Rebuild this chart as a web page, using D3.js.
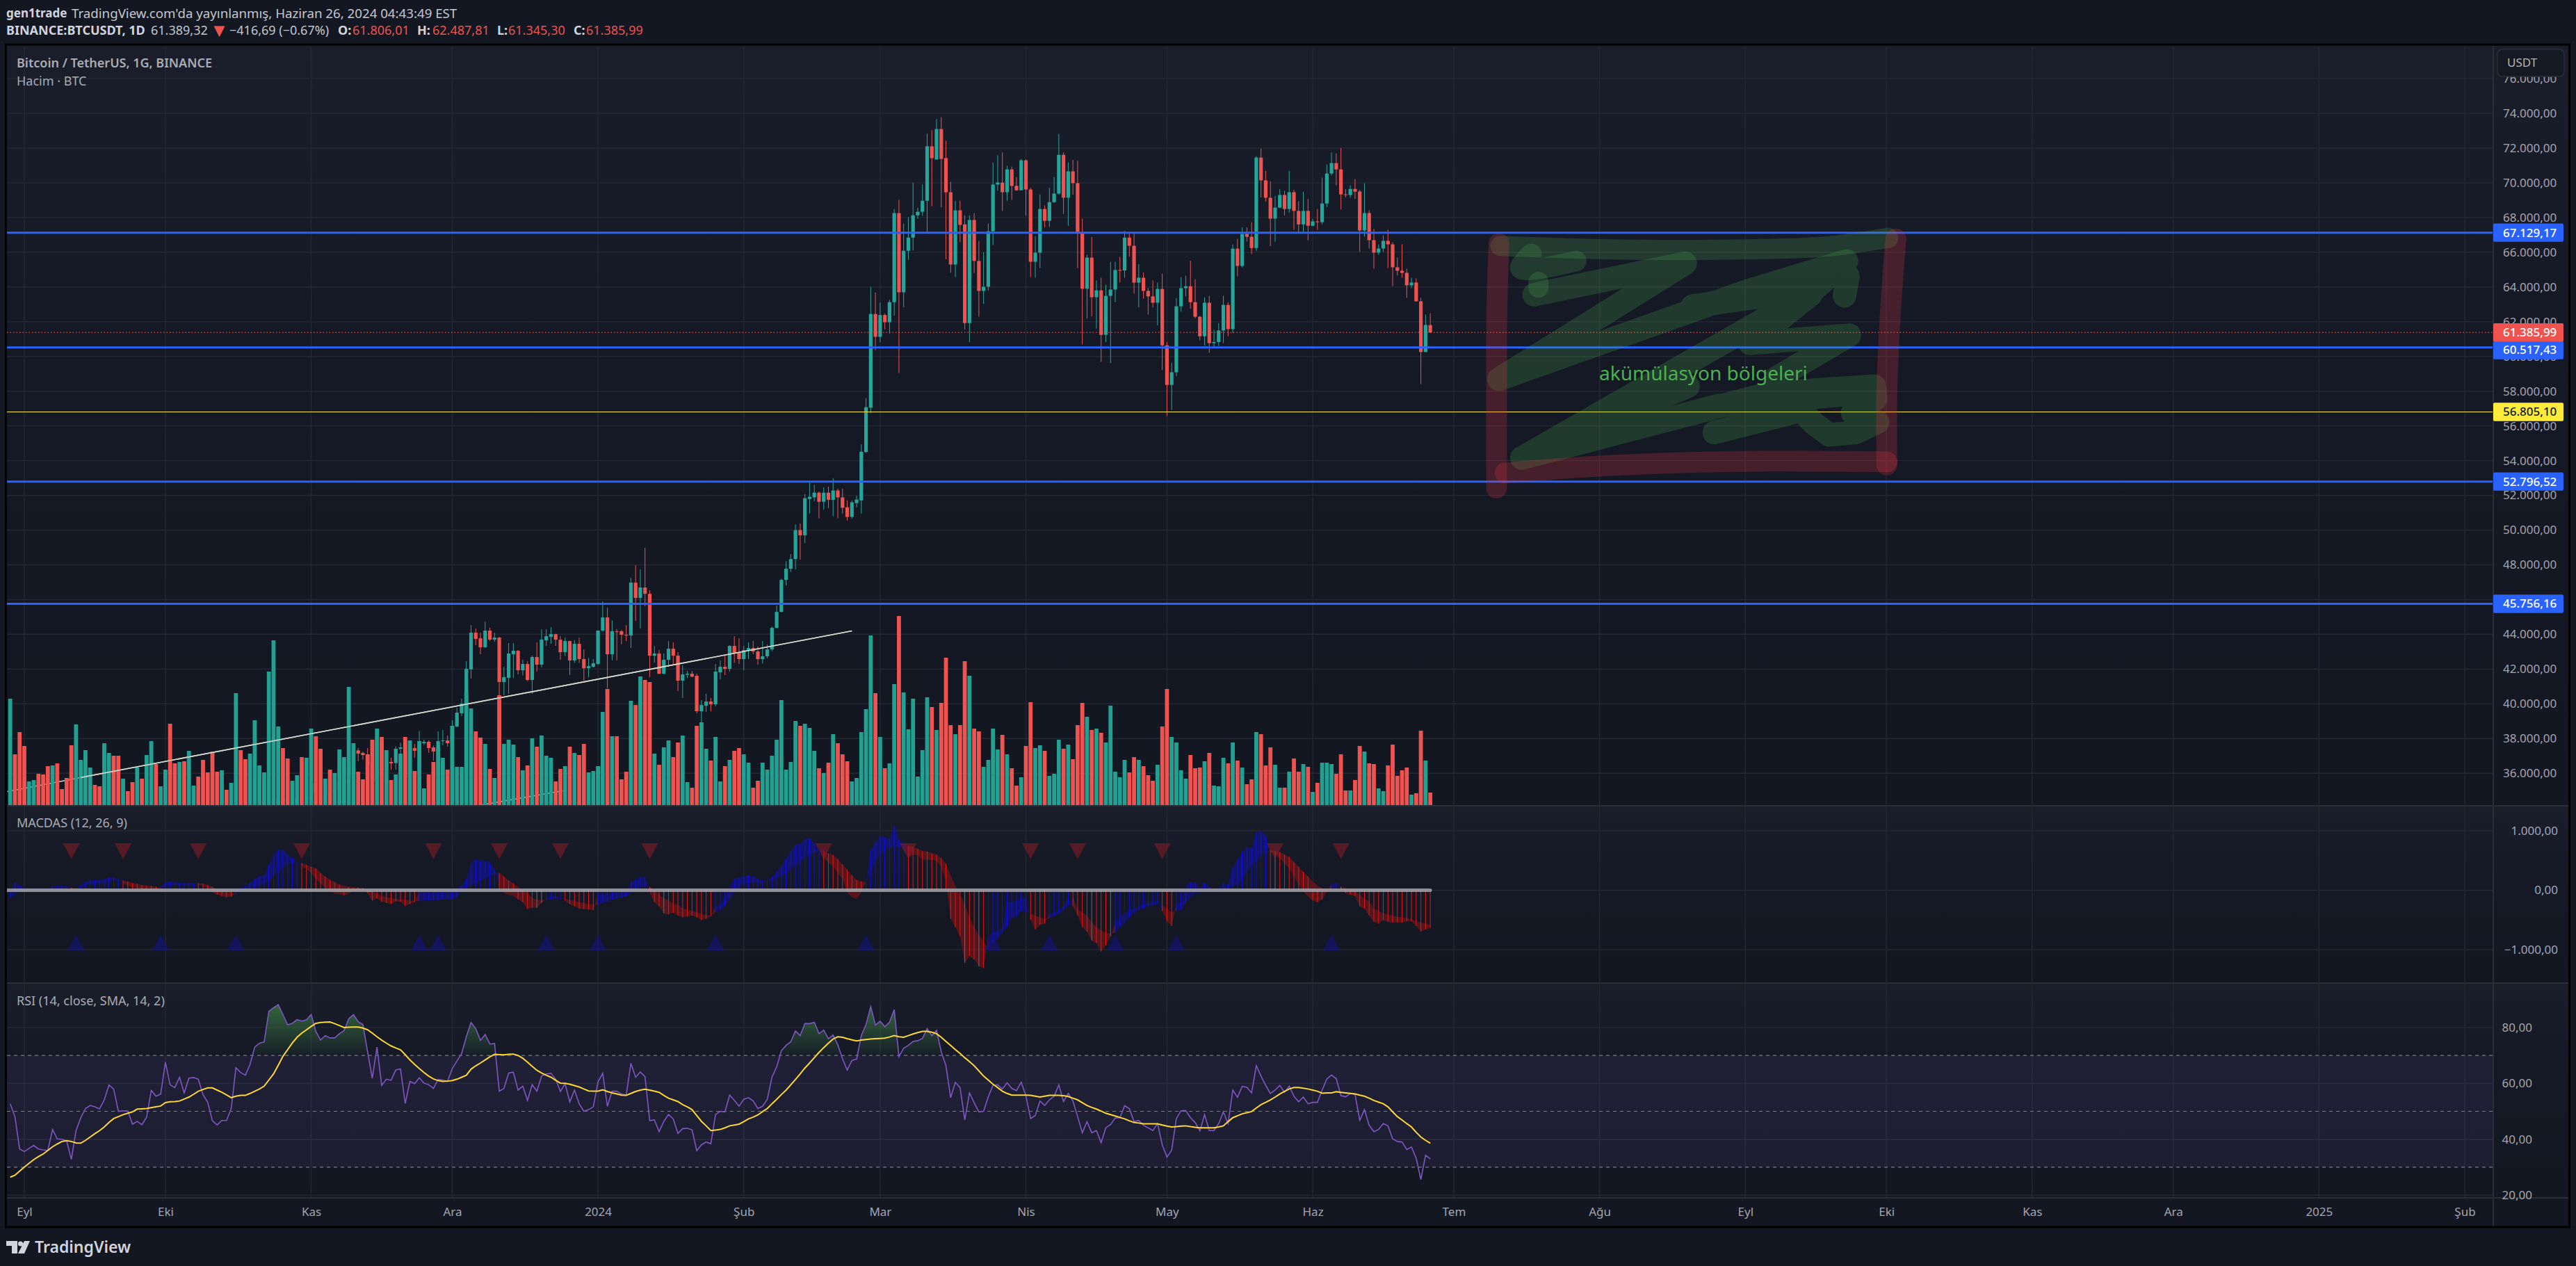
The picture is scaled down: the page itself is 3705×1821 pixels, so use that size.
<!DOCTYPE html>
<html>
<head>
<meta charset="utf-8">
<script src="https://cdn.jsdelivr.net/npm/d3@7"></script>
<style>
  html, body { margin: 0; padding: 0; background: #131722; }
  text { font-family: "Noto Sans", sans-serif; }
</style>
</head>
<body>
<svg id="chart" width="3705" height="1821"></svg>
<script>
/* ==== data ==== */
var firstDay = "2023-08-29";
var firstCandle = 56; // 24 Oct 2023, everything earlier is under the pane

var opens = [
  33069,33922,34496,34151,33892,34081,34525,34474,
  34639,35421,34941,34735,35082,35048,35037,35443,35620,36728,37315,37168,37048,36488,35552,37880,36160,36648,36581,37408,37488,35760,37448,37288,37728,37808,37488,37248,37848,37888,
  37728,38689,39449,39956,41984,44091,43771,43251,44211,43691,43811,41250,41490,42851,43051,41930,42290,41370,42691,42250,43651,43851,44011,43691,42971,43611,42491,43451,42571,42050,42130,
  42290,44211,44972,42851,44171,44171,43971,43931,46973,46092,46693,46332,42771,42891,41730,42531,43171,42771,41330,41670,41730,41610,39569,39889,40129,39969,41810,42130,42010,43331,42931,
  42571,43091,43211,43011,42571,42731,43131,44371,45292,47133,47773,48333,50000,49700,51790,51885,52154,51632,52154,51743,52281,51885,51316,50761,51553,51711,54497,57046,62444,
  61130,62387,61969,63125,68254,63695,66085,66845,68127,68333,68966,72100,71340,73098,71420,69457,65294,68412,67605,61922,67858,65499,63774,64011,67209,69900,70011,69457,70771,69821,69568,
  71293,69615,65452,65974,68491,67810,68887,69378,71610,69140,70660,69979,67098,63900,65689,63410,63805,61241,63489,63853,64977,64950,66845,66370,64249,64534,63774,63457,63093,63885,
  60639,58360,59088,62887,63932,64043,63125,62286,61162,63093,60766,60830,61494,62967,61573,66211,65214,67051,66892,66243,71451,70137,69140,67937,68570,69298,68491,69457,68380,67605,68380,
  67526,67779,67731,68808,70533,71135,70771,69330,69298,69647,69497,67256,68257,66696,65976,66216,66656,66456,65135,64935,64815,64095,64255,63174,60253,61806
];
var highs = [
  35280,35132,34824,34245,34493,34790,34856,34720,
  35579,35984,34946,35275,35380,35295,35890,35900,37972,37530,37448,37248,37448,36760,37980,37980,36840,36888,37555,37755,37650,37880,37688,38443,37928,37888,37595,38408,38489,38168,
  39049,39769,40290,42451,44532,44331,44091,44732,44371,44091,43850,42130,43491,43491,43091,42531,42451,42771,43531,44291,44291,44411,44030,43891,43811,43630,43664,43811,43131,42637,42571,
  44230,45892,45532,44800,44300,44251,44532,47253,47973,47733,48974,46533,43331,43091,42900,43611,43531,42971,42210,41890,41890,41730,40209,40570,40330,42290,42491,42851,43371,43891,43771,
  43331,43531,43611,43291,43611,43411,44451,45652,47200,48213,48614,50330,50370,52075,52820,52614,52217,52455,52503,52994,52392,52392,51711,51711,51980,54940,57600,64011,63676,
  63110,62476,63252,68491,69013,67652,68016,70011,68554,69900,72829,73034,73668,73778,72417,70058,68950,68982,68127,68127,68254,66655,65990,67652,71166,71578,71752,70976,70929,70327,71372,
  71350,69710,66924,69330,68700,69710,70327,72813,71752,71182,71325,71261,67937,65847,66876,64375,64534,64122,65452,65452,65737,67240,67177,67098,65309,64834,63932,64375,64249,64771,
  60830,59642,63362,64565,64644,65515,64454,62333,63410,63489,61526,61922,63489,63109,66449,66766,67430,67430,67731,71530,71974,70691,70090,69235,69631,69536,70691,69600,68934,69489,69061,
  67921,68491,70296,71056,71752,71689,72005,69631,69853,70217,69600,69978,68417,67336,66456,66976,67296,66576,65696,66456,65055,64535,64495,63375,62414,62488
];
var lows = [
  32832,33679,33666,33390,33860,33923,34062,34062,
  34110,34300,34120,34574,34525,34737,34520,35111,35500,36340,36688,36781,35800,35100,35360,35880,35880,36194,36200,36700,35630,35730,36888,37200,37622,37181,36728,36800,37608,37528,
  37600,38650,39289,39950,41450,43371,42851,43220,43611,43571,40490,40490,40570,41477,41690,41637,41290,40570,41850,42100,43331,43451,43331,42531,42757,41650,42357,42357,41330,41530,42090,
  42224,44150,40890,42491,42500,43424,43600,43211,44772,44331,45612,41530,42371,41700,41700,42117,42300,40730,40330,41490,41530,39449,38929,39529,39569,39849,41410,41650,41850,42357,42290,
  41930,42571,42850,42250,42317,42624,43024,44330,45260,46813,47587,47733,48300,49250,50952,51663,50682,51189,51268,50793,50682,50952,50556,50667,51300,50952,54450,56730,60364,
  60814,61557,61320,62349,59056,62824,65562,66101,67921,68100,67067,68649,71340,68586,65594,64818,64565,66576,61557,60814,64803,62286,63030,63805,66417,69552,68380,68966,69013,69536,69568,
  68111,64565,64534,65088,67446,67462,68839,69314,68206,67526,69314,65088,60687,62175,62301,61605,59690,60830,59610,63125,64249,64534,65753,63615,62824,63330,62412,62824,61795,59214,
  56571,56919,58867,62571,63457,62745,62200,60924,60640,60212,60529,60608,60766,61162,61336,64613,65135,66623,65895,66085,69156,68919,66354,66607,68539,68127,68285,67288,67130,67130,66687,
  67494,67288,67604,68602,70422,69853,68459,69156,69140,69077,66016,66896,66216,65055,65856,66016,65095,64055,64655,64535,63375,63935,63150,58412,60253,61345
];
var closes = [
  33922,34496,34151,33892,34081,34525,34474,34639,
  35421,34941,34735,35082,35048,35037,35443,35620,36728,37300,37128,37048,36488,35552,37880,36160,36600,36568,37408,37488,35760,37410,37288,37720,37808,37448,37248,37848,37888,37728,
  38729,39489,40009,42010,44091,43731,43251,44211,43691,43811,41250,41530,42891,43051,41930,42290,41370,42691,42250,43691,43891,44011,43691,42971,43611,42491,43451,42571,42050,42170,42330,
  44211,44972,42851,44171,44150,43971,43940,46973,46092,46693,46332,42771,42891,41730,42531,43171,42771,41330,41690,41730,41560,39569,39929,40129,39969,41850,42130,42010,43331,42931,42571,
  43091,43211,43011,42571,42731,43131,44371,45292,47133,47773,48333,50000,49700,51838,51917,52154,51632,52154,51743,52281,51885,51284,50761,51600,51759,54513,57078,62444,61130,
  62387,61969,63125,68254,63695,66085,66845,68127,68333,68966,72100,71420,73098,71372,69457,65294,68412,67573,61922,67858,65499,63774,64011,67209,69900,70011,69457,70771,69821,69568,71293,
  69615,65452,65974,68491,67810,68887,69378,71610,69140,70660,69979,67098,63900,65689,63410,63805,61241,63489,63853,64977,64950,66845,66370,64249,64534,63774,63457,63093,63885,60639,
  58360,59088,62887,63932,64043,63125,62286,61162,63093,60766,60830,61494,62967,61573,66211,65214,67051,66892,66243,71451,70137,69140,67937,68570,69298,68491,69457,68380,67605,68380,67526,
  67779,67731,68808,70533,71135,70771,69330,69298,69647,69488,67256,68257,66696,65976,66216,66656,66456,65135,64935,64815,64095,64255,63174,60253,61813,61386
];

var volumes = [
  154,74,106,86,35,37,46,45,57,58, 61,24,40,87,117,66,80,55,30,28,
  90,76,72,72,39,21,34,55,39,73, 93,60,28,52,118,61,63,64,79,29,
  42,66,48,78,49,51,23,33,162,80, 67,75,123,58,48,193,238,114,83,68,
  36,44,70,69,111,100,82,39,52,47, 81,70,171,90,49,38,74,95,111,99,
  80,37,45,75,99,94,50,93,25,45, 63,84,69,52,115,56,56,164,140,107,
  98,89,53,40,159,89,95,88,70,51, 58,97,85,101,72,69,35,53,57,85,
  76,73,89,48,50,57,135,168,100,100, 38,49,151,145,186,181,178,75,59,84,
  94,70,91,101,34,26,115,120,82,65, 99,35,57,66,
  79,83,74,62,26,36,62,52,72,95, 152,52,63,122,115,118,112,79,54,47,
  62,103,90,74,64,35,40,106,139,245, 162,99,54,61,175,273,163,110,154,42,
  80,156,142,109,148,213,116,103,116,208, 187,111,107,56,66,111,81,102,74,54,
  29,41,86,149,83,87,79,43,46,95, 82,88,67,116,148,128,109,111,105,91,
  144,49,41,66,48,70,66,57,44,36, 59,114,168,99,91,51,39,73,54,55,
  64,76,29,28,69,61,91,65,55,31, 38,106,103,58,84,59,26,26,49,68,
  49,60,56,20,33,62,62,60,46,74, 22,22,37,86,78,61,60,25,21,58,
  88,43,51,55,16,18,108,65,19
];
var volumeDir =
  "GRRRGGRRRG" + "RRRRGGGGRR" + "GGRRGRRGRG" + "GRGGRRGRGG" + "RRRRRGRGGR" + "RGGGGGGGRR" +
  "GGRGGRRGRG" + "GGGGRRRRGR" + "GRGGRGRGGR" + "RGGRGGGGGR" + "RGRGRGGGRG" + "RGRGGGRRGR" +
  "GRRGGGGRGR" + "RRGRGRRGRG" + "GRRGGRRGGR" + "GGRG" +
  "RRGGRRGGGG" + "GGGGRGGGRG" + "RGRRRGGGGG" + "RGRGGRGGGG" + "GGRGRRRGRR" + "GRRGGGGRGR" +
  "RGRRGGRGGG" + "RGRRRGRGRG" + "GGGGRRGRRR" + "GRRGGGGRRR" + "GRGGGRGRGR" + "RGRRRGGRGR" +
  "RGRGRGGGRR" + "RGRRGRRGGR" + "RRRRGRRGR";

var macdLine = [
  -8,136,78,47,31,23,31,27,23,70, 70,78,70,31,31,85,143,163,171,171,
  186,213,213,186,116,78,39,31,19,8, 0,8,58,136,143,143,124,120,120,116,
  93,70,31,-39,-70,-101,-116,-109,-31,47, 70,124,186,233,252,426,601,678,678,601,
  543,473,407,357,291,186,116,31,-8,-58, -70,-85,-58,-8,-8,0,-47,-174,-136,-194,
  -213,-233,-186,-194,-264,-233,-202,-19,-39,-31, -19,-31,-19,-8,19,39,78,194,465,523,
  496,496,465,368,58,-47,-78,-97,-155,-202, -318,-291,-298,-213,-155,-97,-97,-136,-174,-233,
  -271,-310,-318,-326,-333,-58,-78,-58,-39,-39, -31,-19,147,174,225,233,-47,-202,-271,-388,
  -407,-380,-426,-457,-442,-426,-457,-504,-481,-434, -271,-233,-116,78,186,213,240,252,240,194,
  163,155,225,318,407,535,659,767,775,864, 872,795,690,543,465,407,291,194,-39,-116,
  -147,-39,147,678,814,911,891,872,1085,853, 795,543,601,589,523,512,512,496,388,155,
  -485,-620,-775,-1221,-1105,-1163,-1279,-1310,-775,-698, -698,-620,-194,-194,-174,-136,-97,-496,-659,-581,
  -562,-395,-368,-329,-271,-116,-271,-426,-620,-698, -845,-891,-1031,-930,-775,-543,-465,-388,-329,-310,
  -271,-233,-213,-194,-174,-349,-523,-601,-233,-194, 78,136,136,39,124,58,16,31,116,97,
  388,523,640,729,705,969,1000,911,651,601, 543,446,368,233,97,-19,-109,-174,-202,-155,
  -19,97,124,39,-47,-78,-97,-271,-310,-426, -531,-562,-504,-531,-543,-543,-543,-523,-523,-601,
  -698,-659,-636
];
var signalLine = [
  -136,-78,-8,8,8,8,8,8,8,23, 31,31,31,47,8,39,78,97,109,116,
  124,147,163,163,163,147,124,109,85,78, 70,62,31,58,78,97,85,93,85,85,
  116,109,89,58,8,-8,-19,-31,-70,0, 8,31,47,78,116,155,233,310,380,446,
  465,465,457,426,395,368,291,233,174,136, 97,78,58,47,47,39,16,-8,-58,-97,
  -116,-136,-147,-155,-155,-174,-174,-186,-174,-171, -174,-167,-155,-155,-147,-116,-19,39,78,116,
  155,194,240,271,291,233,163,116,58,0, -31,-136,-155,-163,-163,-155,-136,-155,-147,-163,
  -174,-202,-213,-233,-233,-252,-213,-194,-155,-136, -124,-109,-58,19,58,58,58,8,-78,-136,
  -174,-225,-252,-302,-329,-349,-368,-395,-419,-426, -368,-329,-271,-155,-58,58,105,116,136,124,
  124,147,163,194,240,271,349,426,485,535, 601,640,651,667,620,593,523,434,349,252,
  174,147,136,310,485,601,678,698,756,717, 736,756,729,698,659,651,620,601,543,446,
  252,78,-78,-233,-465,-620,-756,-853,-1008,-891, -814,-717,-620,-465,-457,-349,-368,-388,-426,-457,
  -477,-473,-434,-395,-341,-264,-116,-329,-368,-426, -543,-620,-678,-717,-729,-717,-620,-562,-465,-388,
  -329,-310,-271,-252,-233,-252,-310,-368,-349,-329, -213,-116,-58,-47,19,0,-8,8,0,8,
  78,97,174,310,426,485,581,678,686,659, 640,601,562,477,395,310,233,147,78,39,
  8,19,58,58,39,19,-19,-70,-136,-194, -310,-349,-388,-407,-426,-446,-457,-465,-485,-523,
  -543,-562,-581
];
// days where the histogram stick is grey instead of coloured
var greySticks = [112, 113, 139, 203, 206, 230, 234, 269, 283];
var sellMarks = [13, 24, 40, 62, 90, 104, 117, 136, 173, 191, 217, 227, 245, 269, 283];
var buyMarks = [14, 32, 48, 87, 91, 114, 125, 150, 182, 209, 221, 235, 248, 281];

var rsiLine = [
  52.7,48.1,36.5,35.6,36.7,37.8,36.5,36.2,36.0,43.5, 40.1,40.0,39.4,32.8,43.1,47.7,51.0,52.1,51.6,50.9,
  54.1,59.4,58.0,50.0,50.2,50.1,45.4,46.4,45.2,47.9, 57.5,55.4,56.2,67.6,59.5,58.5,62.2,56.6,61.9,62.1,
  61.5,56.0,53.2,46.6,45.1,46.7,46.7,51.0,65.6,63.9, 62.9,66.8,73.0,74.4,74.8,85.8,87.1,88.2,84.6,81.0,
  81.5,82.8,82.3,82.8,84.7,78.6,75.5,77.1,76.3,76.3, 77.8,78.9,83.2,84.6,82.1,81.1,71.3,61.8,73.0,59.3,
  61.5,61.1,64.8,65.2,52.8,60.7,59.9,62.0,60.1,59.5, 58.2,61.4,61.2,60.7,65.3,68.0,70.7,76.7,81.8,79.6,
  75.4,77.5,74.1,74.3,57.2,58.2,63.7,64.0,57.6,59.0, 53.9,59.5,57.2,62.6,63.4,63.6,61.5,57.1,59.9,53.4,
  57.6,52.7,50.0,50.6,51.6,60.5,63.6,51.8,57.2,57.2, 56.2,55.8,67.2,62.2,64.1,62.4,46.7,46.9,42.7,46.4,
  48.9,47.3,42.1,43.8,43.9,43.4,35.9,38.0,39.0,38.4, 48.9,50.0,49.8,55.8,53.9,51.8,54.3,54.9,53.7,51.0,
  51.8,54.3,62.2,65.9,71.7,73.6,74.9,78.8,77.1,81.4, 81.4,81.9,77.8,79.1,76.0,77.3,73.8,68.8,64.8,68.2,
  68.7,77.1,81.1,87.5,80.9,82.3,80.3,81.9,86.4,69.6, 72.6,73.6,75.0,75.3,76.1,79.6,77.1,79.0,71.3,66.3,
  54.9,60.4,58.5,46.9,56.6,53.1,49.8,50.0,55.2,59.3, 59.5,58.0,60.2,58.2,57.4,60.4,55.6,47.4,48.5,53.7,
  52.1,54.1,55.4,59.5,53.5,56.4,53.7,48.1,42.3,46.3, 42.3,43.1,38.8,44.1,45.2,47.6,47.7,52.0,51.0,46.3,
  46.7,45.0,44.1,43.1,45.6,38.0,33.6,36.1,47.4,50.2, 50.3,47.7,46.0,43.0,48.8,43.1,43.1,45.6,49.8,45.6,
  57.6,55.0,58.9,58.6,56.6,66.3,62.6,59.3,56.4,57.6, 59.3,56.8,59.0,55.4,53.4,55.1,52.7,53.2,53.2,57.6,
  61.6,63.0,61.7,55.6,55.2,56.4,56.0,46.8,50.6,45.0, 42.7,43.5,45.6,44.8,40.1,39.2,39.0,36.3,37.2,33.2,
  25.6,34.3,33.0
];
var rsiAverage = [
  26.4,27.1,28.6,30.0,31.4,32.7,33.8,34.7,36.0,37.3, 38.3,39.2,39.5,39.2,38.7,38.6,39.6,40.8,42.0,43.1,
  44.4,46.0,47.4,48.1,48.8,49.3,49.8,50.8,50.9,51.0, 51.3,51.6,51.9,53.1,53.4,53.5,53.7,54.4,55.1,56.1,
  57.2,57.8,58.4,58.4,57.6,56.8,55.9,54.9,55.4,55.7, 55.7,56.4,57.2,58.0,59.0,61.2,63.4,66.5,69.7,72.1,
  74.5,76.5,78.0,79.2,80.4,81.5,81.8,81.9,82.0,81.4, 80.7,80.0,80.1,80.2,80.2,79.8,79.2,78.0,76.7,75.5,
  74.4,73.4,72.7,72.0,70.3,68.4,66.8,65.3,63.9,62.6, 61.6,61.0,60.7,60.8,61.0,61.5,62.2,62.9,65.1,66.3,
  67.3,68.4,69.5,70.4,70.3,70.2,70.4,70.5,70.0,69.0, 67.6,66.1,64.7,63.7,62.9,62.2,61.1,60.1,60.0,59.7,
  59.2,58.7,58.0,57.3,57.2,57.2,57.7,57.1,56.6,56.2, 55.8,55.7,56.4,57.1,57.6,57.9,57.6,57.2,56.8,55.7,
  54.7,54.1,53.5,52.4,51.6,50.6,48.5,46.4,44.8,43.1, 43.3,43.5,44.1,44.8,45.1,45.4,46.3,47.3,47.9,48.7,
  49.9,51.0,52.7,54.3,56.0,57.6,59.5,61.4,63.4,65.5, 67.3,69.2,71.1,72.8,74.4,75.9,76.7,76.5,76.0,75.6,
  75.2,75.5,75.7,75.9,76.0,76.1,76.2,76.6,77.1,76.7, 76.5,77.1,77.7,78.2,78.6,78.6,78.3,77.8,76.5,75.0,
  73.6,72.1,70.7,69.2,67.8,66.3,64.5,62.6,61.2,59.7, 58.5,57.2,56.4,55.8,55.8,55.8,55.8,55.7,55.4,55.1,
  55.4,55.7,55.7,55.7,55.6,55.3,54.7,54.1,53.1,52.1, 51.4,50.8,50.1,49.3,48.8,48.3,47.8,47.3,46.6,46.0,
  45.8,45.5,45.5,45.5,45.5,45.1,44.7,44.4,44.5,44.7, 44.8,44.5,44.3,44.1,44.1,44.1,44.1,44.4,44.8,46.3,
  47.7,48.4,49.1,49.5,49.9,51.2,52.4,53.2,54.1,55.1, 56.2,57.1,58.0,58.5,58.5,58.3,58.0,57.6,57.2,56.5,
  56.6,56.6,57.0,56.8,56.6,56.4,56.2,55.8,55.4,54.7, 53.9,53.3,52.7,51.6,49.8,48.1,46.9,45.6,44.4,42.5,
  40.8,39.6,38.6
];

var priceTicks = d3.range(36000, 78000, 2000);
var macdTicks = [1000, 0, -1000];
var rsiTicks = [80, 60, 40, 20];
var rsiDashed = [70, 50, 30];
var monthDates = ["2023-09-01","2023-10-01","2023-11-01","2023-12-01","2024-01-01","2024-02-01","2024-03-01","2024-04-01","2024-05-01","2024-06-01","2024-07-01","2024-08-01","2024-09-01","2024-10-01","2024-11-01","2024-12-01","2025-01-01","2025-02-01"];
var monthLabels = ["Eyl","Eki","Kas","Ara","2024","Şub","Mar","Nis","May","Haz","Tem","Ağu","Eyl","Eki","Kas","Ara","2025","Şub"];

var blueLevels = [67129.17, 60517.43, 52796.52, 45756.16];
var yellowLevel = 56805.10;
var lastPrice = 61385.99;

// hand drawn things, as [days since 1 Sep 2023, price]
var trendLine = [[-3.6, 34950], [176, 44196]];
var trendOver = [[12, 35753], [176, 44196]];
var trendLine2 = [[97.5, 34185], [114.5, 34986]];
var brushMain = [
  [[321.1,63560],[353.2,65361],[313.6,58691],[366.4,63760],[387.5,65494],[379.6,63627],[318.5,54155],[353.8,58291],[318.5,54155],[371.3,57891],[393.4,58291],[393.7,57557],[388.8,56757]],
  [[379.9,63560],[367.0,60759],[388.1,61226],[372.6,58758]],
  [[359.4,55623],[377.9,56890],[380.5,56156],[383.8,55489],[389.5,55623],[394.1,56223]],
  [[387.1,63494],[387.8,64627]],
  [[354.8,62893],[380.5,63894]],
  [[325.1,54622],[360.1,57157],[387.8,57824]]
];
var brushTop = [[313.9,66362],[331.7,66201],[364.7,66161],[384.5,66362],[396.4,66828]];
var brushBlob = [[320.5,65895],[318.2,65161],[330.0,65494]];
var brushDot = [[322.0,64294],[322.0,63960]];
var brushRed = [
  [[313.6,66495],[313.2,63160],[313.1,57824],[313.1,52421]],
  [[314.9,53288],[335.0,53688],[364.7,53955],[396.1,53929]],
  [[398.0,66762],[396.7,61826],[396.1,57824],[396.1,53755]]
];

/* ==== setup ==== */
var left = 10, axisX = 3586, right = 3695;
var mainTop = 66, mainBottom = 1159, macdBottom = 1414, rsiBottom = 1723, frameBottom = 1765;

var up = "#26a69a", down = "#ef5350", blue = "#2962ff", yellow = "#ffeb3b";
var gridColor = "#232732", lineColor = "#2a2e39", axisText = "#a3a6af";

var svg = d3.select("#chart");
var defs = svg.append("defs");

var parseDay = d3.utcParse("%Y-%m-%d");
var startDay = parseDay("2023-09-01");
var dayOf = function(i) { return d3.utcDay.offset(parseDay(firstDay), i); };

var x = d3.scaleUtc()
  .domain([startDay, parseDay("2025-02-01")])
  .range([35, 3545]);
var xDays = function(n) { return x(d3.utcMillisecond.offset(startDay, n * 864e5)); };

var priceY = d3.scaleLinear().domain([74000, 36000]).range([163, 1112.2]);
var volumeY = d3.scaleLinear().domain([0, 273]).range([mainBottom, mainBottom - 273]);
var macdY = d3.scaleLinear().domain([1000, -1000]).range([1195, 1366]);
var rsiY = d3.scaleLinear().domain([80, 20]).range([1478, 1719]);

var locale = d3.formatLocale({ decimal: ",", thousands: ".", grouping: [3], currency: ["", ""], minus: "\u2212" });
var money = locale.format(",.2f");

function paneGradient(id) {
  var g = defs.append("linearGradient").attr("id", id).attr("x1", 0).attr("x2", 0).attr("y1", 0).attr("y2", 1);
  g.append("stop").attr("offset", "0%").attr("stop-color", "#1a1e2b");
  g.append("stop").attr("offset", "35%").attr("stop-color", "#151925");
  g.append("stop").attr("offset", "100%").attr("stop-color", "#131722");
}
paneGradient("paneFill");

function clipTo(id, y0, y1) {
  defs.append("clipPath").attr("id", id).append("rect")
    .attr("x", left).attr("y", y0).attr("width", axisX - left).attr("height", y1 - y0);
}
clipTo("mainClip", mainTop, mainBottom);
clipTo("macdClip", mainBottom, macdBottom);

[[mainTop, mainBottom], [mainBottom, macdBottom], [macdBottom, rsiBottom]].forEach(function(p) {
  svg.append("rect").attr("x", left).attr("y", p[0]).attr("width", right - left).attr("height", p[1] - p[0])
    .attr("fill", "url(#paneFill)");
});

/* ==== grid ==== */
var grid = svg.append("g").attr("stroke", gridColor).attr("stroke-width", 1.5);
var monthDays = monthDates.map(parseDay);
grid.selectAll(".v").data(monthDays).enter().append("line")
  .attr("x1", function(d) { return x(d); }).attr("x2", function(d) { return x(d); })
  .attr("y1", mainTop).attr("y2", rsiBottom);
grid.selectAll(".h").data(priceTicks.filter(function(d) { return priceY(d) > mainTop; })).enter().append("line")
  .attr("x1", left).attr("x2", axisX)
  .attr("y1", function(d) { return priceY(d); }).attr("y2", function(d) { return priceY(d); });
grid.selectAll(".m").data(macdTicks).enter().append("line")
  .attr("x1", left).attr("x2", axisX)
  .attr("y1", function(d) { return macdY(d); }).attr("y2", function(d) { return macdY(d); });
grid.selectAll(".r").data(rsiTicks).enter().append("line")
  .attr("x1", left).attr("x2", axisX)
  .attr("y1", function(d) { return rsiY(d); }).attr("y2", function(d) { return rsiY(d); });

/* ==== price pane ==== */
var main = svg.append("g").attr("clip-path", "url(#mainClip)");
var candles = d3.range(opens.length).map(function(i) {
  return { day: dayOf(firstCandle + i), o: opens[i], h: highs[i], l: lows[i], c: closes[i] };
});
function candleColor(d) { return d.c >= d.o ? up : down; }

main.append("g").selectAll("line").data(candles).enter().append("line")
  .attr("x1", function(d) { return x(d.day); }).attr("x2", function(d) { return x(d.day); })
  .attr("y1", function(d) { return priceY(d.h); }).attr("y2", function(d) { return priceY(d.l); })
  .attr("stroke", candleColor).attr("stroke-width", 1);
main.append("g").selectAll("rect").data(candles).enter().append("rect")
  .attr("x", function(d) { return x(d.day) - 2.6; })
  .attr("width", 5.2)
  .attr("y", function(d) { return Math.min(priceY(d.o), priceY(d.c)); })
  .attr("height", function(d) { return Math.max(1, Math.abs(priceY(d.o) - priceY(d.c))); })
  .attr("fill", candleColor);

var dayLine = d3.line()
  .x(function(d) { return xDays(d[0]); })
  .y(function(d) { return priceY(d[1]); });

// the trend lines run behind the volume on the left side
main.append("path").attr("d", dayLine(trendLine)).attr("fill", "none").attr("stroke", "#cfd5c8").attr("stroke-width", 1.6);
main.append("path").attr("d", dayLine(trendLine2)).attr("fill", "none").attr("stroke", "#cfd5c8").attr("stroke-width", 1.6);

main.append("g").selectAll("rect").data(volumes).enter().append("rect")
  .attr("x", function(d, i) { return x(dayOf(i)) - 2.9; })
  .attr("width", 5.8)
  .attr("y", function(d) { return volumeY(d); })
  .attr("height", function(d) { return volumeY(0) - volumeY(d); })
  .attr("fill", function(d, i) { return volumeDir[i] == "G" ? "#22a193" : down; });

// from here on the line sits on top of the bars
main.append("path").attr("d", dayLine(trendOver)).attr("fill", "none").attr("stroke", "#cfd5c8").attr("stroke-width", 1.6);

main.selectAll(".blue").data(blueLevels).enter().append("line")
  .attr("x1", left).attr("x2", axisX)
  .attr("y1", function(d) { return priceY(d); }).attr("y2", function(d) { return priceY(d); })
  .attr("stroke", blue).attr("stroke-width", 3);
main.append("line")
  .attr("x1", left).attr("x2", axisX)
  .attr("y1", priceY(yellowLevel)).attr("y2", priceY(yellowLevel))
  .attr("stroke", yellow).attr("stroke-width", 1.2);
main.append("line")
  .attr("x1", left).attr("x2", axisX)
  .attr("y1", priceY(lastPrice)).attr("y2", priceY(lastPrice))
  .attr("stroke", down).attr("stroke-width", 1.2).attr("stroke-dasharray", "1.5 3");

/* ==== brush drawing ==== */
var smooth = d3.line()
  .x(function(d) { return xDays(d[0]); })
  .y(function(d) { return priceY(d[1]); })
  .curve(d3.curveCatmullRom.alpha(0.9));

function brush(paths, color, op, gen, width) {
  // one group opacity so a stroke does not darken where it crosses itself
  var g = main.append("g").attr("opacity", op).attr("fill", "none").attr("stroke", color)
    .attr("stroke-width", width).attr("stroke-linecap", "round").attr("stroke-linejoin", "round");
  paths.forEach(function(p) { g.append("path").attr("d", gen(p)); });
}
brush(brushMain, "#4caf50", 0.22, dayLine, 34);
brush([brushTop], "#4caf50", 0.22, smooth, 29);
brush([brushBlob], "#4caf50", 0.22, smooth, 30);
brush([brushDot], "#4caf50", 0.22, dayLine, 29);
brushRed.forEach(function(p) { brush([p], "#f23645", 0.22, smooth, 30); });

main.append("text").attr("x", 2300).attr("y", 547)
  .attr("fill", "#4caf50").attr("font-size", 28).text("akümülasyon bölgeleri");

/* ==== MACD pane ==== */
var macd = svg.append("g").attr("clip-path", "url(#macdClip)");
var macdDays = macdLine.map(function(d, i) { return { i: i, m: d, s: signalLine[i] }; });

macd.append("g").selectAll("path").data(macdDays.slice(0, -1)).enter().append("path")
  .attr("d", function(d) {
    var n = macdDays[d.i + 1];
    var x0 = x(dayOf(d.i)), x1 = x(dayOf(d.i + 1));
    return d3.line()([[x0, macdY(d.m)], [x1, macdY(n.m)], [x1, macdY(n.s)], [x0, macdY(d.s)]]) + "Z";
  })
  .attr("fill", function(d) { return d.m >= d.s ? "#1111a0" : "#8c1414"; })
  .attr("opacity", 0.55);

function farthest(d) { return Math.abs(d.m) > Math.abs(d.s) ? d.m : d.s; }
macd.append("g").selectAll("line").data(macdDays).enter().append("line")
  .attr("x1", function(d) { return x(dayOf(d.i)); }).attr("x2", function(d) { return x(dayOf(d.i)); })
  .attr("y1", macdY(0)).attr("y2", function(d) { return macdY(farthest(d)); })
  .attr("stroke", function(d) {
    if (greySticks.indexOf(d.i) >= 0) return "#6b6b75";
    return d.m >= d.s ? "#0d0df0" : "#e81414";
  })
  .attr("stroke-width", 1);

macd.append("line")
  .attr("x1", left).attr("x2", x(dayOf(macdLine.length - 1)))
  .attr("y1", macdY(0)).attr("y2", macdY(0))
  .attr("stroke", "#adadb3").attr("stroke-opacity", 0.8).attr("stroke-width", 5).attr("stroke-linecap", "round");

function triangles(days, color, y0, y1) {
  macd.append("g").selectAll("path").data(days).enter().append("path")
    .attr("d", function(d) {
      var cx = x(dayOf(d));
      return "M" + (cx - 12) + "," + macdY(y0) + "L" + (cx + 12) + "," + macdY(y0) + "L" + cx + "," + macdY(y1) + "Z";
    })
    .attr("fill", color);
}
triangles(sellMarks, "rgba(140,28,36,0.55)", 790, 523);
triangles(buyMarks, "rgba(18,18,130,0.6)", -1012, -745);

/* ==== RSI pane ==== */
var rsi = svg.append("g");
rsi.append("rect").attr("x", left).attr("width", axisX - left)
  .attr("y", rsiY(70)).attr("height", rsiY(30) - rsiY(70))
  .attr("fill", "#7e57c2").attr("opacity", 0.1);
rsi.selectAll(".dash").data(rsiDashed).enter().append("line")
  .attr("x1", left).attr("x2", axisX)
  .attr("y1", function(d) { return rsiY(d); }).attr("y2", function(d) { return rsiY(d); })
  .attr("stroke", "#787b86").attr("stroke-width", 1.2).attr("stroke-dasharray", "5 5");

var obGrad = defs.append("linearGradient").attr("id", "obFill").attr("gradientUnits", "userSpaceOnUse")
  .attr("x1", 0).attr("x2", 0).attr("y1", rsiY(88)).attr("y2", rsiY(70));
obGrad.append("stop").attr("offset", "0%").attr("stop-color", "#4caf50").attr("stop-opacity", 0.5);
obGrad.append("stop").attr("offset", "100%").attr("stop-color", "#4caf50").attr("stop-opacity", 0.03);
defs.append("clipPath").attr("id", "obClip").append("rect")
  .attr("x", left).attr("width", axisX - left).attr("y", macdBottom).attr("height", rsiY(70) - macdBottom);

var rsiX = function(d, i) { return x(dayOf(i)); };
rsi.append("path")
  .attr("clip-path", "url(#obClip)")
  .attr("d", d3.area().x(rsiX).y0(rsiY(70)).y1(function(d) { return rsiY(d); })(rsiLine))
  .attr("fill", "url(#obFill)");
rsi.append("path")
  .attr("d", d3.line().x(rsiX).y(function(d) { return rsiY(d); })(rsiLine))
  .attr("fill", "none").attr("stroke", "#7e57c2").attr("stroke-width", 1.6);
rsi.append("path")
  .attr("d", d3.line().x(rsiX).y(function(d) { return rsiY(d); })(rsiAverage))
  .attr("fill", "none").attr("stroke", "#fdd835").attr("stroke-width", 2);

/* ==== separators and frame ==== */
var seps = svg.append("g").attr("stroke", lineColor).attr("stroke-width", 2);
[mainBottom, macdBottom, rsiBottom].forEach(function(y) {
  seps.append("line").attr("x1", left).attr("x2", right).attr("y1", y).attr("y2", y);
});
seps.append("line").attr("x1", axisX).attr("x2", axisX).attr("y1", mainTop).attr("y2", frameBottom);

/* ==== axes ==== */
function styleAxis(g, size) {
  g.select(".domain").remove();
  g.selectAll(".tick line").remove();
  g.selectAll("text")
    .attr("fill", axisText).attr("font-size", size)
    .attr("font-family", "'Noto Sans', sans-serif");
}
var priceAxis = d3.axisRight(priceY).tickValues(priceTicks).tickFormat(money).tickSize(0).tickPadding(0);
svg.append("g").attr("transform", "translate(3600,0)").call(priceAxis).call(styleAxis, 17);
svg.append("g").attr("transform", "translate(3679,0)")
  .call(d3.axisLeft(macdY).tickValues(macdTicks).tickFormat(money).tickSize(0).tickPadding(0))
  .call(styleAxis, 17);
svg.append("g").attr("transform", "translate(3642,0)")
  .call(d3.axisLeft(rsiY).tickValues(rsiTicks).tickFormat(money).tickSize(0).tickPadding(0))
  .call(styleAxis, 17);

var timeAxis = d3.axisBottom(x).tickValues(monthDays)
  .tickFormat(function(d, i) { return monthLabels[i]; }).tickSize(0).tickPadding(0);
svg.append("g").attr("transform", "translate(0," + (rsiBottom + 14) + ")").call(timeAxis).call(styleAxis, 17);

/* ==== price labels on the axis ==== */
function priceTag(value, fill, color, cy) {
  var g = svg.append("g");
  g.append("rect").attr("x", axisX).attr("y", cy - 13.2).attr("width", 101).attr("height", 26.4)
    .attr("rx", 2).attr("fill", fill);
  g.append("text").attr("x", 3600).attr("y", cy).attr("dy", "0.35em")
    .attr("fill", color).attr("font-size", 17).attr("font-weight", 500).text(money(value));
}
priceTag(blueLevels[0], blue, "#fff", priceY(blueLevels[0]));
priceTag(blueLevels[2], blue, "#fff", priceY(blueLevels[2]));
priceTag(blueLevels[3], blue, "#fff", priceY(blueLevels[3]));
priceTag(yellowLevel, yellow, "#131722", priceY(yellowLevel));
priceTag(blueLevels[1], blue, "#fff", 503.5);
priceTag(lastPrice, down, "#fff", priceY(lastPrice));

svg.append("rect").attr("x", 3592).attr("y", 71).attr("width", 96).attr("height", 39).attr("rx", 7)
  .attr("fill", "#151924").attr("stroke", "#2a2e39").attr("stroke-width", 1.5);
svg.append("text").attr("x", 3606).attr("y", 90).attr("dy", "0.35em")
  .attr("fill", "#b2b5be").attr("font-size", 17).text("USDT");

// black frame round the chart
svg.append("rect").attr("x", left - 1.5).attr("y", mainTop - 2).attr("width", right - left + 2).attr("height", frameBottom - mainTop + 2)
  .attr("fill", "none").attr("stroke", "#000").attr("stroke-width", 3);

/* ==== legends and header ==== */
function label(px, py, str, color, size, weight) {
  return svg.append("text").attr("x", px).attr("y", py).attr("dy", "0.35em")
    .attr("fill", color).attr("font-size", size).attr("font-weight", weight || 400).text(str);
}
var headColor = "#c3c6ce", legendColor = "#a9acb4";
label(9, 19, "gen1trade", "#d1d4dc", 17, 700);
label(103, 19, "TradingView.com'da yayınlanmış, Haziran 26, 2024 04:43:49 EST", headColor, 18.7);
label(9, 44, "BINANCE:BTCUSDT, 1D", "#d1d4dc", 18, 700);
label(217, 44, "61.389,32", headColor, 18);
label(302, 44, "▼", down, 27);
label(330, 44, "−416,69 (−0.67%)", headColor, 18);
label(486, 44, "O:", "#d1d4dc", 18, 700);
label(507, 44, "61.806,01", down, 18);
label(600, 44, "H:", "#d1d4dc", 18, 700);
label(622, 44, "62.487,81", down, 18);
label(715, 44, "L:", "#d1d4dc", 18, 700);
label(731, 44, "61.345,30", down, 18);
label(825, 44, "C:", "#d1d4dc", 18, 700);
label(843, 44, "61.385,99", down, 18);

label(24, 90.5, "Bitcoin / TetherUS, 1G, BINANCE", legendColor, 18, 600);
label(24, 117, "Hacim · BTC", legendColor, 18);
label(24, 1184, "MACDAS (12, 26, 9)", legendColor, 18);
label(24, 1440, "RSI (14, close, SMA, 14, 2)", legendColor, 18);

// logo
var logo = svg.append("g").attr("fill", "#d1d4dc");
logo.append("path").attr("d", "M9,1785h16v18h-8v-11h-8z");
logo.append("circle").attr("cx", 29.5).attr("cy", 1789).attr("r", 3.6);
logo.append("path").attr("d", "M35,1785h8l-8,18h-9z");
label(50, 1794, "TradingView", "#d1d4dc", 23, 600);
</script>
</body>
</html>
